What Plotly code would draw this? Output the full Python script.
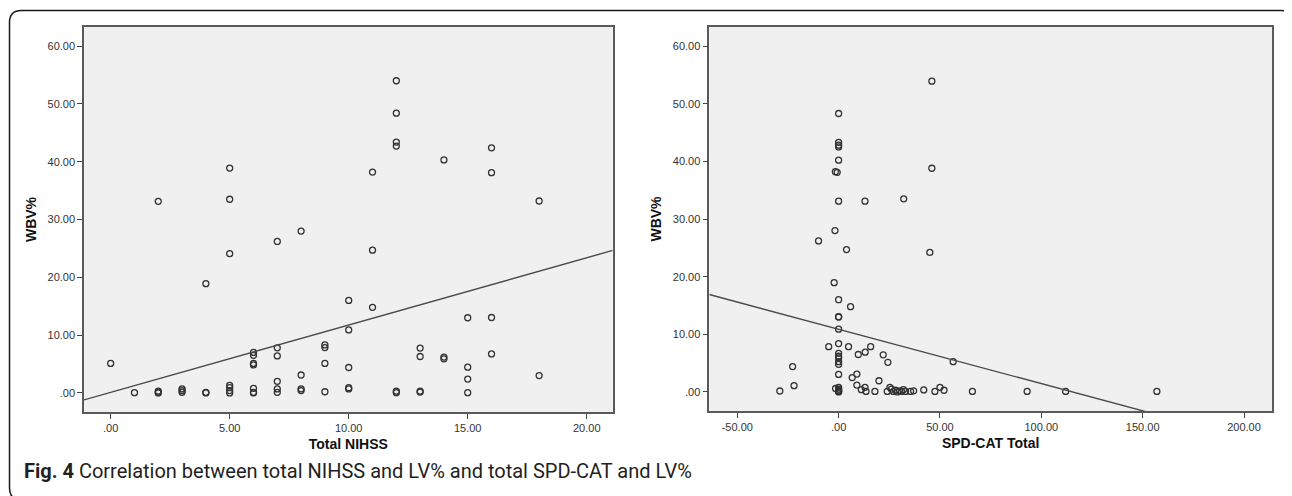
import plotly.graph_objects as go

# ---------------- data ----------------
# Left panel: Total NIHSS vs WBV%
nihss = [0, 1,
         2, 2, 2, 2,
         3, 3, 3,
         4, 4, 4,
         5, 5, 5, 5, 5, 5, 5,
         6, 6, 6, 6, 6, 6, 6,
         7, 7, 7, 7, 7, 7,
         8, 8, 8, 8,
         9, 9, 9, 9,
         10, 10, 10, 10, 10,
         11, 11, 11,
         12, 12, 12, 12, 12, 12,
         13, 13, 13, 13,
         14, 14, 14,
         15, 15, 15, 15,
         16, 16, 16, 16,
         18, 18]
wbv_left = [5.1, 0.05,
            33.15, 0.3, 0.1, 0.0,
            0.7, 0.4, 0.1,
            18.9, 0.1, 0.0,
            38.9, 33.5, 24.1, 1.3, 0.9, 0.4, 0.0,
            7.0, 6.5, 5.1, 4.85, 0.8, 0.1, 0.0,
            26.2, 7.8, 6.4, 2.0, 0.7, 0.1,
            28.0, 3.1, 0.7, 0.4,
            8.3, 7.85, 5.1, 0.2,
            16.0, 10.9, 4.4, 0.9, 0.7,
            38.2, 24.7, 14.8,
            54.0, 48.4, 43.4, 42.7, 0.3, 0.05,
            7.75, 6.3, 0.3, 0.15,
            40.3, 6.2, 5.9,
            13.0, 4.45, 2.4, 0.05,
            42.4, 38.1, 13.05, 6.75,
            33.2, 3.0]

# Right panel: SPD-CAT Total vs WBV%
spdcat = [0, 0, 0, 0, 0, 0, 0, 0, 0, 0, 0, 0, 0, 0, 0, 0, 0, 0, 0, 0, 0, 0, 0,
          -1.6, -0.7, 46, 46, 45, 13, 32.1, -1.8, -9.9, 3.9, -2.2, 5.9,
          -4.9, 4.9, 15.8, 13.1, 9.7, 22, 24.3, 56.5,
          -22.7, 9, 6.7, 19.9, -22, 9, -29,
          -1.5, 11.2, 13, 13.5, 17.9,
          24, 25.3, 26, 27, 28, 29, 30, 31, 32, 33, 35.5, 37,
          42, 47.5, 50, 52, 66, 93, 112, 157]
wbv_right = [48.3, 43.3, 42.8, 42.5, 40.2, 33.1, 16.0, 13.05, 13.0, 10.9, 8.4, 6.7,
             6.2, 5.9, 5.25, 4.8, 3.05, 0.8, 0.5, 0.3, 0.2, 0.1, 0.0,
             38.2, 38.1, 53.9, 38.8, 24.2, 33.1, 33.5, 28.0, 26.2, 24.7, 18.95, 14.8,
             7.85, 7.85, 7.85, 6.9, 6.5, 6.45, 5.15, 5.25,
             4.4, 3.1, 2.5, 1.95, 1.1, 1.2, 0.17,
             0.6, 0.4, 0.8, 0.1, 0.1,
             0.1, 0.8, 0.5, 0.1, 0.3, 0.0, 0.2, 0.1, 0.4, 0.1, 0.1, 0.2,
             0.35, 0.1, 0.8, 0.3, 0.1, 0.1, 0.1, 0.1]

# Fit lines (intercept, slope)
fit_left = (0.10, 1.164)
fit_right = (10.88, -0.0943)

# Tick labels
y_ticks = [0, 10, 20, 30, 40, 50, 60]
y_ticktext = [".00", "10.00", "20.00", "30.00", "40.00", "50.00", "60.00"]
xl_ticks = [0, 5, 10, 15, 20]
xl_ticktext = [".00", "5.00", "10.00", "15.00", "20.00"]
xr_ticks = [-50, 0, 50, 100, 150, 200]
xr_ticktext = ["-50.00", ".00", "50.00", "100.00", "150.00", "200.00"]

caption = "<b>Fig. 4</b> Correlation between total NIHSS and LV% and total SPD-CAT and LV%"

# ---------------- layout geometry ----------------
# The page body has an 8px margin, so the figure starts at (8, 8) in the window.
OFF = 8
W, H = 1292 - OFF, 496 - OFF
xl_range = [-1.12, 21.09]
xr_range = [-63.8, 213.8]
y_range = [-3.3, 63.3]

def px(x):
    return (x - OFF) / W

def py(y):
    return 1 - (y - OFF) / H

fig = go.Figure()

marker = dict(symbol="circle-open", size=6, color="#333333", line=dict(width=1.3, color="#333333"))

fig.add_trace(go.Scatter(x=nihss, y=wbv_left, mode="markers", marker=marker,
                         xaxis="x", yaxis="y", showlegend=False))
fig.add_trace(go.Scatter(x=spdcat, y=wbv_right, mode="markers", marker=marker,
                         xaxis="x2", yaxis="y2", showlegend=False))

# regression lines across the x-range, clipped by the plot area
for (b0, b1), rng, xa, ya in [(fit_left, xl_range, "x", "y"), (fit_right, xr_range, "x2", "y2")]:
    xs = [rng[0], rng[1]]
    ys = [b0 + b1 * v for v in xs]
    fig.add_trace(go.Scatter(x=xs, y=ys, mode="lines", line=dict(color="#4a4a4a", width=1.4),
                             xaxis=xa, yaxis=ya, showlegend=False, cliponaxis=True))

tickfont = dict(family="Liberation Sans, Arial, sans-serif", size=11, color="#333333")
titlefont = dict(family="Liberation Sans, Arial, sans-serif", size=14, color="#111111")

axis_common = dict(showline=True, mirror=True, linecolor="#5a5a5a", linewidth=1.5,
                   ticks="outside", ticklen=5, tickcolor="#444444", tickwidth=1.2,
                   showgrid=False, zeroline=False, tickfont=tickfont, fixedrange=True)

fig.update_layout(
    width=W, height=H,
    margin=dict(l=0, r=0, t=0, b=0),
    paper_bgcolor="white",
    plot_bgcolor="#f0f0f0",
    xaxis=dict(domain=[px(84), px(612.7)], range=xl_range, tickvals=xl_ticks, ticktext=xl_ticktext,
               title=dict(text="<b>Total NIHSS</b>", font=titlefont, standoff=6), anchor="y", **axis_common),
    yaxis=dict(domain=[py(412), py(27)], range=y_range, tickvals=y_ticks, ticktext=y_ticktext,
               title=dict(text="<b>WBV%</b>", font=titlefont, standoff=8), anchor="x", **axis_common),
    xaxis2=dict(domain=[px(709.3), px(1272)], range=xr_range, tickvals=xr_ticks, ticktext=xr_ticktext,
                title=dict(text="<b>SPD-CAT Total</b>", font=titlefont, standoff=6), anchor="y2", **axis_common),
    yaxis2=dict(domain=[py(411), py(27)], range=y_range, tickvals=y_ticks, ticktext=y_ticktext,
                title=dict(text="<b>WBV%</b>", font=titlefont, standoff=8), anchor="x2", **axis_common),
)

# rounded outer frame
x0, y0, x1, y1, r = 9.5, 10.5, 1293, 500, 12
rx, ry = r / W, r / H
X0, X1 = px(x0), px(x1)
Y0, Y1 = py(y0), py(y1)
path = (f"M {X0 + rx} {Y0} L {X1 - rx} {Y0} Q {X1} {Y0} {X1} {Y0 - ry} "
        f"L {X1} {Y1 + ry} Q {X1} {Y1} {X1 - rx} {Y1} "
        f"L {X0 + rx} {Y1} Q {X0} {Y1} {X0} {Y1 + ry} "
        f"L {X0} {Y0 - ry} Q {X0} {Y0} {X0 + rx} {Y0} Z")
fig.add_shape(type="path", path=path, xref="paper", yref="paper",
              line=dict(color="#1a1a1a", width=1.5), fillcolor="rgba(0,0,0,0)", layer="below")

fig.add_annotation(text=caption, xref="paper", yref="paper", x=px(22), y=py(471),
                   xanchor="left", yanchor="middle", showarrow=False,
                   font=dict(family="Roboto, sans-serif", size=20, color="#231f20"))

fig.write_html("out.html")
